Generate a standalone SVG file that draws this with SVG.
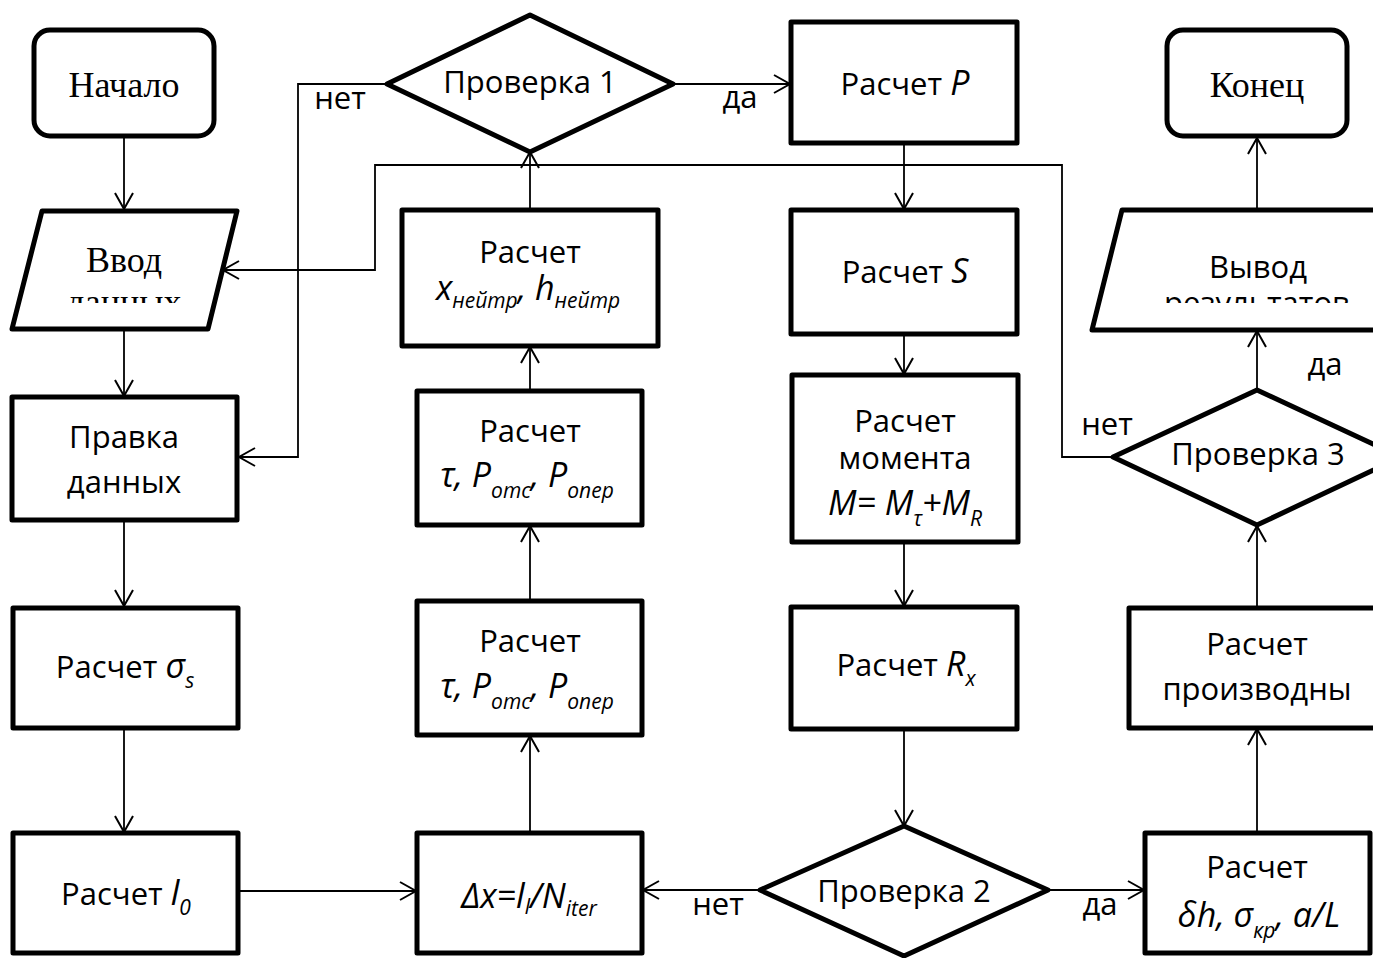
<svg xmlns="http://www.w3.org/2000/svg" width="1373" height="958" viewBox="0 0 1373 958">
<style>
.node{fill:#fff;stroke:#000;stroke-width:5;stroke-linejoin:round}
.t{font-family:"Open Sans","Noto Sans",sans-serif;font-size:31px;text-anchor:middle;fill:#000}
.s{font-family:"Liberation Serif","Times New Roman",serif;font-size:36px;text-anchor:middle;fill:#000}
.i{font-style:italic;font-size:34px}
.sb{font-size:21px;font-style:italic}
.conn{fill:none;stroke:#000;stroke-width:1.8}
</style>
<defs>
<marker id="arr" viewBox="-18 -11 20 22" refX="0" refY="0" markerWidth="20" markerHeight="22" markerUnits="userSpaceOnUse" orient="auto">
<path d="M-16,-9 L0,0 L-16,9" fill="none" stroke="#000" stroke-width="2"/>
</marker>
<clipPath id="clipVvod"><rect x="0" y="200" width="260" height="103"/></clipPath>
<clipPath id="clipVyvod"><rect x="1080" y="200" width="300" height="103"/></clipPath>
</defs>
<rect width="1373" height="958" fill="#fff"/>

<g id="connectors">
<path class="conn" marker-end="url(#arr)" d="M124,137 L124,209"/>
<path class="conn" marker-end="url(#arr)" d="M124,329 L124,396"/>
<path class="conn" marker-end="url(#arr)" d="M124,520 L124,606"/>
<path class="conn" marker-end="url(#arr)" d="M124,728 L124,832"/>
<path class="conn" marker-end="url(#arr)" d="M238,891 L416,891"/>
<path class="conn" marker-end="url(#arr)" d="M530,833 L530,736"/>
<path class="conn" marker-end="url(#arr)" d="M530,601 L530,526"/>
<path class="conn" marker-end="url(#arr)" d="M530,390 L530,347"/>
<path class="conn" marker-end="url(#arr)" d="M530,210 L530,152"/>
<path class="conn" marker-end="url(#arr)" d="M387,84 L298,84 L298,457 L239,457"/>
<path class="conn" marker-end="url(#arr)" d="M673,84 L790,84"/>
<path class="conn" marker-end="url(#arr)" d="M904,143 L904,209"/>
<path class="conn" marker-end="url(#arr)" d="M904,334 L904,374"/>
<path class="conn" marker-end="url(#arr)" d="M904,542 L904,606"/>
<path class="conn" marker-end="url(#arr)" d="M904,729 L904,826"/>
<path class="conn" marker-end="url(#arr)" d="M760,890 L643,890"/>
<path class="conn" marker-end="url(#arr)" d="M1048,890 L1144,890"/>
<path class="conn" marker-end="url(#arr)" d="M1257,833 L1257,729"/>
<path class="conn" marker-end="url(#arr)" d="M1257,608 L1257,526"/>
<path class="conn" marker-end="url(#arr)" d="M1257,390 L1257,331"/>
<path class="conn" marker-end="url(#arr)" d="M1257,210 L1257,138"/>
<path class="conn" marker-end="url(#arr)" d="M1113,457 L1062,457 L1062,165 L375,165 L375,270 L223,270"/>
<text class="t" x="340" y="109">нет</text>
<text class="t" x="740" y="108">да</text>
<text class="t" x="718" y="915">нет</text>
<text class="t" x="1100" y="915">да</text>
<text class="t" x="1107" y="435">нет</text>
<text class="t" x="1325" y="375">да</text>
</g>

<g id="start">
<rect class="node" x="34" y="30" width="180" height="106" rx="16"/>
<text class="s" x="124" y="97">Начало</text>
</g>

<g id="input">
<polygon class="node" points="42,211 237,211 208,329 12,329"/>
<text class="s" x="124" y="272">Ввод</text>
<text class="s" x="124" y="314" clip-path="url(#clipVvod)">данных</text>
</g>

<g id="edit">
<rect class="node" x="12" y="397" width="225" height="123"/>
<text class="t" x="124" y="448">Правка</text>
<text class="t" x="124" y="493">данных</text>
</g>

<g id="sigma">
<rect class="node" x="13" y="608" width="225" height="120"/>
<text class="t" x="125" y="678">Расчет <tspan class="i">σ</tspan><tspan class="sb" dy="10">s</tspan></text>
</g>

<g id="l0">
<rect class="node" x="13" y="833" width="225" height="120"/>
<text class="t" x="126" y="905">Расчет <tspan class="i">l</tspan><tspan class="sb" dy="10">0</tspan></text>
</g>

<g id="check1">
<polygon class="node" points="387,84 530,15 673,84 530,152"/>
<text class="t" x="530" y="93">Проверка 1</text>
</g>

<g id="xneutr">
<rect class="node" x="402" y="210" width="256" height="136"/>
<text class="t" x="530" y="263">Расчет</text>
<text class="t" x="528" y="300"><tspan class="i">x</tspan><tspan class="sb" dy="8">нейтр</tspan><tspan class="i" dy="-8">, h</tspan><tspan class="sb" dy="8">нейтр</tspan></text>
</g>

<g id="tau1">
<rect class="node" x="417" y="391" width="225" height="134"/>
<text class="t" x="530" y="442">Расчет</text>
<text class="t" x="527" y="487"><tspan class="i">τ, P</tspan><tspan class="sb" dy="11">omc</tspan><tspan class="i" dy="-11">, P</tspan><tspan class="sb" dy="11">onep</tspan></text>
</g>

<g id="tau2">
<rect class="node" x="417" y="601" width="225" height="134"/>
<text class="t" x="530" y="652">Расчет</text>
<text class="t" x="527" y="698"><tspan class="i">τ, P</tspan><tspan class="sb" dy="11">omc</tspan><tspan class="i" dy="-11">, P</tspan><tspan class="sb" dy="11">onep</tspan></text>
</g>

<g id="dx">
<rect class="node" x="417" y="833" width="225" height="120"/>
<text class="t" x="529" y="908"><tspan class="i">Δx=l</tspan><tspan class="sb" dy="6">l</tspan><tspan class="i" dy="-6">/N</tspan><tspan class="sb" dy="8">iter</tspan></text>
</g>

<g id="calcP">
<rect class="node" x="791" y="22" width="226" height="121"/>
<text class="t" x="905" y="95">Расчет <tspan class="i">P</tspan></text>
</g>

<g id="calcS">
<rect class="node" x="791" y="210" width="226" height="124"/>
<text class="t" x="905" y="283">Расчет <tspan class="i">S</tspan></text>
</g>

<g id="moment">
<rect class="node" x="792" y="375" width="226" height="167"/>
<text class="t" x="905" y="432">Расчет</text>
<text class="t" x="905" y="469">момента</text>
<text class="t" x="905" y="515"><tspan class="i">M= M</tspan><tspan class="sb" dy="11">τ</tspan><tspan class="i" dy="-11">+M</tspan><tspan class="sb" dy="11">R</tspan></text>
</g>

<g id="calcR">
<rect class="node" x="791" y="607" width="226" height="122"/>
<text class="t" x="906" y="676">Расчет <tspan class="i">R</tspan><tspan class="sb" dy="10">x</tspan></text>
</g>

<g id="check2">
<polygon class="node" points="760,890 904,826 1048,890 904,956"/>
<text class="t" x="904" y="902">Проверка 2</text>
</g>

<g id="dh">
<rect class="node" x="1145" y="833" width="225" height="120"/>
<text class="t" x="1257" y="878">Расчет</text>
<text class="t" x="1259" y="927"><tspan class="i">δh, σ</tspan><tspan class="sb" dy="11">кр</tspan><tspan class="i" dy="-11">, a/L</tspan></text>
</g>

<g id="deriv">
<rect class="node" x="1129" y="608" width="256" height="120"/>
<text class="t" x="1257" y="655">Расчет</text>
<text class="t" x="1257" y="700">производны</text>
</g>

<g id="check3">
<polygon class="node" points="1113,457 1257,390 1401,457 1257,525"/>
<text class="t" x="1258" y="465">Проверка 3</text>
</g>

<g id="output">
<polygon class="node" points="1122,210 1425,210 1395,330 1092,330"/>
<text class="t" x="1258" y="278">Вывод</text>
<text class="t" x="1257" y="314" clip-path="url(#clipVyvod)">результатов</text>
</g>

<g id="end">
<rect class="node" x="1167" y="30" width="180" height="106" rx="16"/>
<text class="s" x="1257" y="97">Конец</text>
</g>
</svg>
